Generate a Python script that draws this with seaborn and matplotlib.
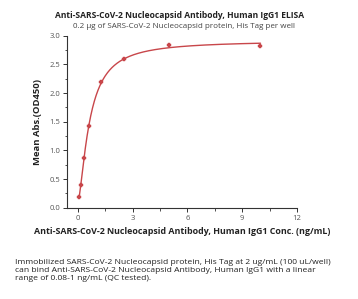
import numpy as np
import pandas as pd
import matplotlib
matplotlib.use("Agg")
import matplotlib.pyplot as plt
import seaborn as sns
from matplotlib.ticker import MultipleLocator

conc = [0.078, 0.156, 0.3125, 0.625, 1.25, 2.5, 5.0, 10.0]
od450 = [0.19, 0.40, 0.87, 1.42, 2.19, 2.60, 2.83, 2.82]
x_ticks = [0, 3, 6, 9, 12]
y_ticks = [0.0, 0.5, 1.0, 1.5, 2.0, 2.5, 3.0]

title = "Anti-SARS-CoV-2 Nucleocapsid Antibody, Human IgG1 ELISA"
subtitle = "0.2 \u03bcg of SARS-CoV-2 Nucleocapsid protein, His Tag per well"
xlabel = "Anti-SARS-CoV-2 Nucleocapsid Antibody, Human IgG1 Conc. (ng/mL)"
ylabel = "Mean Abs.(OD450)"
caption = ("Immobilized SARS-CoV-2 Nucleocapsid protein, His Tag at 2 ug/mL (100 uL/well)\n"
           "can bind Anti-SARS-CoV-2 Nucleocapsid Antibody, Human IgG1 with a linear\n"
           "range of 0.08-1 ng/mL (QC tested).")

df = pd.DataFrame({"conc": conc, "od": od450})

# 4PL fit of the measured points (grid over b, c; linear LSQ for a, d)
x = np.array(conc); y = np.array(od450)
best = None
for b in np.linspace(0.5, 3.0, 126):
    for c in np.exp(np.linspace(np.log(0.05), np.log(5), 200)):
        g = 1.0 / (1.0 + (x / c) ** b)
        A = np.vstack([g, 1 - g]).T
        coef, *_ = np.linalg.lstsq(A, y, rcond=None)
        r = np.sum((A @ coef - y) ** 2)
        if best is None or r < best[0]:
            best = (r, b, c, coef)
_, b, c, (a, d) = best
xf = np.linspace(min(conc), max(conc), 400)
gf = 1.0 / (1.0 + (xf / c) ** b)
fit = pd.DataFrame({"conc": xf, "od": a * gf + d * (1 - gf)})

sns.set_theme(style="ticks")
plt.rcParams["font.family"] = ["Open Sans", "DejaVu Sans"]

fig = plt.figure(figsize=(3.58, 2.99), dpi=100)
ax = fig.add_axes([67/358, 1 - 207.7/299, (297 - 67)/358, (207.7 - 35.7)/299])

red = "#c8464a"
sns.lineplot(data=fit, x="conc", y="od", ax=ax, color=red, linewidth=1.0)
sns.scatterplot(data=df, x="conc", y="od", ax=ax, color=red, marker="P",
                s=10, edgecolor=red, linewidth=0.3, zorder=3)

ax.set_xlim(-0.6, 12)
ax.set_ylim(0, 3.0)
ax.set_xticks(x_ticks)
ax.set_yticks(y_ticks)
ax.set_yticklabels([f"{v:.1f}" for v in y_ticks])
ax.xaxis.set_minor_locator(MultipleLocator(1.5))
ax.yaxis.set_minor_locator(MultipleLocator(0.25))
ax.tick_params(axis="both", which="major", labelsize=5.5, labelcolor="#555555",
               color="#333333", length=3, width=0.7, pad=2)
ax.tick_params(axis="both", which="minor", color="#333333", length=1.8, width=0.6)
for s in ["top", "right"]:
    ax.spines[s].set_visible(False)
for s in ["left", "bottom"]:
    ax.spines[s].set_color("#333333")
    ax.spines[s].set_linewidth(0.8)

ax.set_xlabel(xlabel, fontsize=6.4, fontweight="bold", color="#222222", labelpad=4)
ax.set_ylabel(ylabel, fontsize=6.8, fontweight="bold", color="#222222", labelpad=5)

fig.text(180/358, 1 - 15/299, title, ha="center", va="center",
         fontsize=6.1, fontweight="bold", color="#222222")
fig.text(184/358, 1 - 27/299, subtitle, ha="center", va="center",
         fontsize=5.75, color="#444444")
fig.text(15/358, 1 - 259/299, caption, ha="left", va="top",
         fontsize=6.1, color="#222222", linespacing=1.25)

fig.savefig("out.png", dpi=100)
